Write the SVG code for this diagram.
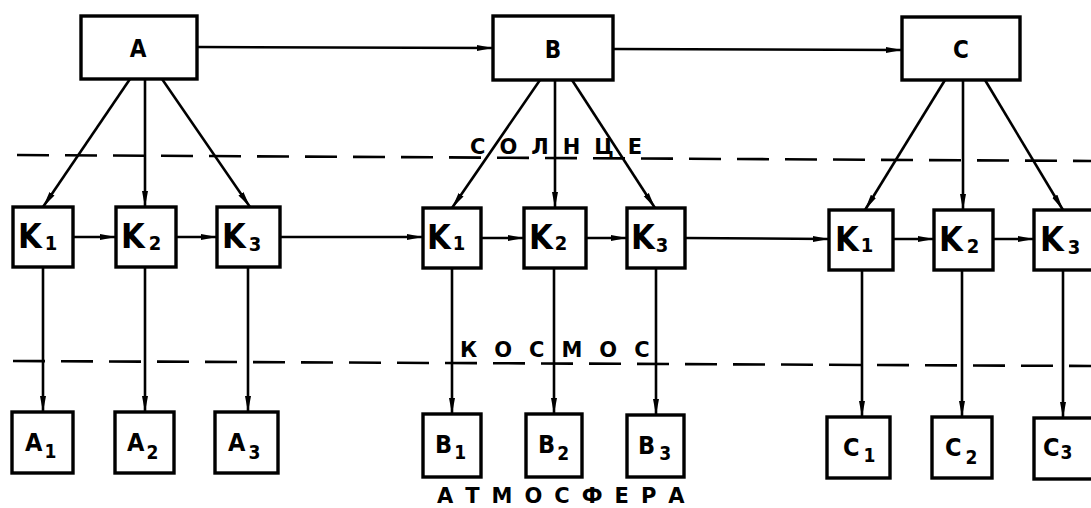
<svg xmlns="http://www.w3.org/2000/svg" width="1091" height="508" viewBox="0 0 1091 508">
  <defs>
    <marker id="arr" viewBox="0 0 16 8" refX="16" refY="4" markerWidth="16" markerHeight="8" markerUnits="userSpaceOnUse" orient="auto">
      <path d="M0,1 L16,4 L0,7 Z" fill="#000"/>
    </marker>
  </defs>
  <style>
    .box { fill: #fff; stroke: #000; stroke-width: 3.4; }
    .edge { fill: none; stroke: #000; stroke-width: 2.6; marker-end: url(#arr); }
    .zone { fill: none; stroke: #000; stroke-width: 2.6; stroke-dasharray: 32 16; }
    text { font-family: "Liberation Sans Narrow", "DejaVu Sans Condensed", "Liberation Sans", sans-serif; font-weight: bold; fill: #000; }
    .top { font-size: 24px; text-anchor: middle; }
    .k { font-size: 34px; }
    .leaf { font-size: 25px; }
    .sub { font-size: 19px; }
    .ksub { font-size: 20px; }
    .zlabel { font-family: "DejaVu Sans", "Liberation Sans", sans-serif; font-size: 21px; }
  </style>

  <!-- zone boundaries -->
  <g id="zones">
    <line class="zone" x1="17" y1="155" x2="1091" y2="161"/>
    <line class="zone" x1="13" y1="361" x2="1091" y2="366"/>
  </g>

  <!-- connectors -->
  <g id="connectors">
    <line class="edge" x1="197" y1="47" x2="493" y2="48"/>
    <line class="edge" x1="613" y1="49" x2="902" y2="50"/>

    <line class="edge" x1="130" y1="79" x2="43" y2="207"/>
    <line class="edge" x1="145" y1="79" x2="145" y2="207"/>
    <line class="edge" x1="162" y1="79" x2="250" y2="207"/>

    <line class="edge" x1="540" y1="80" x2="452" y2="208"/>
    <line class="edge" x1="555" y1="80" x2="555" y2="208"/>
    <line class="edge" x1="572" y1="80" x2="655" y2="208"/>

    <line class="edge" x1="945" y1="80" x2="865" y2="210"/>
    <line class="edge" x1="963" y1="80" x2="963" y2="210"/>
    <line class="edge" x1="985" y1="80" x2="1063" y2="210"/>

    <line class="edge" x1="73" y1="237" x2="116" y2="237"/>
    <line class="edge" x1="176" y1="237" x2="217" y2="237"/>
    <line class="edge" x1="280" y1="237" x2="423" y2="237"/>
    <line class="edge" x1="481" y1="238" x2="524" y2="238"/>
    <line class="edge" x1="586" y1="238" x2="627" y2="238"/>
    <line class="edge" x1="685" y1="238" x2="829" y2="239"/>
    <line class="edge" x1="893" y1="239" x2="934" y2="239"/>
    <line class="edge" x1="993" y1="239" x2="1034" y2="239"/>

    <line class="edge" x1="43" y1="267" x2="43" y2="412"/>
    <line class="edge" x1="145" y1="267" x2="145" y2="412"/>
    <line class="edge" x1="248" y1="267" x2="248" y2="412"/>
    <line class="edge" x1="452" y1="268" x2="452" y2="414"/>
    <line class="edge" x1="554" y1="268" x2="554" y2="414"/>
    <line class="edge" x1="656" y1="268" x2="656" y2="415"/>
    <line class="edge" x1="862" y1="270" x2="862" y2="417"/>
    <line class="edge" x1="962" y1="270" x2="962" y2="417"/>
    <line class="edge" x1="1063" y1="270" x2="1063" y2="418"/>
  </g>

  <!-- sources -->
  <g id="A"><rect class="box" x="81" y="16" width="116" height="63"/><text class="top" x="138" y="57">A</text></g>
  <g id="B"><rect class="box" x="493" y="16" width="120" height="64"/><text class="top" x="553" y="58">B</text></g>
  <g id="C"><rect class="box" x="902" y="17" width="118" height="63"/><text class="top" x="961" y="58">C</text></g>

  <!-- first group of K -->
  <g id="AK1"><rect class="box" x="13" y="207" width="60" height="60"/><text class="k" x="18" y="248">K<tspan class="ksub" dx="3" dy="2">1</tspan></text></g>
  <g id="AK2"><rect class="box" x="116" y="207" width="60" height="60"/><text class="k" x="121" y="248">K<tspan class="ksub" dx="4" dy="2">2</tspan></text></g>
  <g id="AK3"><rect class="box" x="217" y="207" width="63" height="60"/><text class="k" x="222" y="248">K<tspan class="ksub" dx="3" dy="3">3</tspan></text></g>

  <!-- second group of K -->
  <g id="BK1"><rect class="box" x="423" y="208" width="58" height="60"/><text class="k" x="427" y="249">K<tspan class="ksub" dx="2" dy="1">1</tspan></text></g>
  <g id="BK2"><rect class="box" x="524" y="208" width="62" height="60"/><text class="k" x="529" y="249">K<tspan class="ksub" dx="2" dy="1">2</tspan></text></g>
  <g id="BK3"><rect class="box" x="627" y="208" width="58" height="60"/><text class="k" x="631" y="249">K<tspan class="ksub" dx="1" dy="3">3</tspan></text></g>

  <!-- third group of K -->
  <g id="CK1"><rect class="box" x="829" y="210" width="64" height="60"/><text class="k" x="835" y="251">K<tspan class="ksub" dx="2" dy="1">1</tspan></text></g>
  <g id="CK2"><rect class="box" x="934" y="210" width="59" height="60"/><text class="k" x="939" y="251">K<tspan class="ksub" dx="4" dy="2">2</tspan></text></g>
  <g id="CK3"><rect class="box" x="1034" y="210" width="62" height="60"/><text class="k" x="1040" y="251">K<tspan class="ksub" dx="4" dy="3">3</tspan></text></g>

  <!-- outputs -->
  <g id="A1"><rect class="box" x="12" y="412" width="61" height="61"/><text class="leaf" x="25" y="451">A<tspan class="sub" dx="2" dy="7">1</tspan></text></g>
  <g id="A2"><rect class="box" x="115" y="412" width="59" height="61"/><text class="leaf" x="127" y="451">A<tspan class="sub" dx="2" dy="8">2</tspan></text></g>
  <g id="A3"><rect class="box" x="215" y="412" width="63" height="61"/><text class="leaf" x="228" y="451">A<tspan class="sub" dx="3" dy="8">3</tspan></text></g>

  <g id="B1"><rect class="box" x="423" y="414" width="58" height="63"/><text class="leaf" x="435" y="453">B<tspan class="sub" dx="2" dy="6">1</tspan></text></g>
  <g id="B2"><rect class="box" x="526" y="414" width="56" height="63"/><text class="leaf" x="538" y="453">B<tspan class="sub" dx="2" dy="7">2</tspan></text></g>
  <g id="B3"><rect class="box" x="627" y="415" width="57" height="62"/><text class="leaf" x="638" y="454">B<tspan class="sub" dx="4" dy="6">3</tspan></text></g>

  <g id="C1"><rect class="box" x="827" y="417" width="63" height="61"/><text class="leaf" x="843" y="456">C<tspan class="sub" dx="4" dy="6">1</tspan></text></g>
  <g id="C2"><rect class="box" x="932" y="417" width="60" height="61"/><text class="leaf" x="945" y="456">C<tspan class="sub" dx="4" dy="8">2</tspan></text></g>
  <g id="C3"><rect class="box" x="1034" y="418" width="62" height="61"/><text class="leaf" x="1043" y="456">C<tspan class="sub" dx="1" dy="3">3</tspan></text></g>

  <!-- zone names -->
  <g id="labels">
    <text class="zlabel" x="470" y="154" letter-spacing="14">СОЛНЦЕ</text>
    <text class="zlabel" x="460" y="357" font-size="20" letter-spacing="17">КОСМОС</text>
    <text class="zlabel" x="437" y="503" font-size="18" letter-spacing="12">АТМОСФЕРА</text>
  </g>
</svg>
